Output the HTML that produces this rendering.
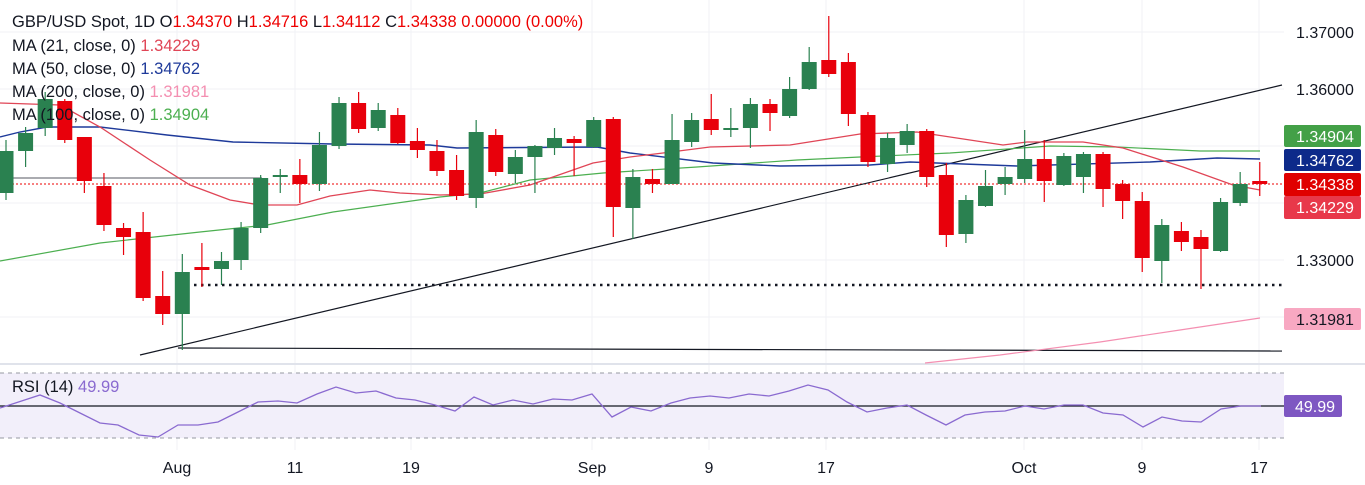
<!DOCTYPE html>
<html><head><meta charset="utf-8"><style>
html,body{margin:0;padding:0;background:#fff;width:1365px;height:485px;overflow:hidden}
svg{display:block;font-family:"Liberation Sans",sans-serif}
</style></head><body>
<svg id="s" width="1365" height="485" viewBox="0 0 1365 485" xmlns="http://www.w3.org/2000/svg">
<rect width="1365" height="485" fill="#fff"/>
<g stroke="#f0f2f5" stroke-width="1">
<line x1="0" y1="32" x2="1284" y2="32"/><line x1="0" y1="89" x2="1284" y2="89"/><line x1="0" y1="146" x2="1284" y2="146"/><line x1="0" y1="203" x2="1284" y2="203"/><line x1="0" y1="260" x2="1284" y2="260"/><line x1="0" y1="317" x2="1284" y2="317"/>
<line x1="177" y1="0" x2="177" y2="450"/><line x1="295" y1="0" x2="295" y2="450"/><line x1="411" y1="0" x2="411" y2="450"/><line x1="592" y1="0" x2="592" y2="450"/><line x1="709" y1="0" x2="709" y2="450"/><line x1="826" y1="0" x2="826" y2="450"/><line x1="1024" y1="0" x2="1024" y2="450"/><line x1="1142" y1="0" x2="1142" y2="450"/><line x1="1259" y1="0" x2="1259" y2="450"/>
</g>
<line x1="0" y1="364" x2="1365" y2="364" stroke="#e0e3eb" stroke-width="2"/>
<rect x="0" y="373" width="1284" height="65" fill="#f2effa"/>
<line x1="0" y1="373" x2="1284" y2="373" stroke="#9598a1" stroke-dasharray="4,4"/>
<line x1="0" y1="438" x2="1284" y2="438" stroke="#9598a1" stroke-dasharray="4,4"/>
<line x1="0" y1="406" x2="1284" y2="406" stroke="#131722" stroke-width="1.2"/>
<polyline fill="none" stroke="#8a6ad0" stroke-width="1.3" points="0,408 40,395 60,403 80,413 100,423 118,425 139,435 158,437 178,425 198,425 218,422 238,412 258,402 278,401 297,403 317,394 336,387 356,393 376,391 396,398 415,400 435,405 455,411 474,397 493,405 513,400 533,404 553,399 572,400 592,394 612,417 631,407 651,411 671,403 690,398 710,396 729,398 749,394 769,396 789,391 808,385 828,390 847,402 867,412 887,408 907,405 926,415 946,425 965,415 985,412 1005,411 1025,406 1044,409 1064,405 1083,405 1103,413 1123,415 1143,427 1162,417 1182,421 1201,422 1221,409 1241,406 1261,406"/>
<line x1="0" y1="178" x2="262" y2="178" stroke="#8d8f96" stroke-width="1.5"/>
<line x1="0" y1="184" x2="1284" y2="184" stroke="#e00" stroke-width="1" stroke-dasharray="2,2"/>
<line x1="187" y1="285" x2="1282" y2="285" stroke="#131722" stroke-width="2.5" stroke-dasharray="2.5,4.5"/>
<line x1="140" y1="355" x2="1282" y2="85" stroke="#131722" stroke-width="1.2"/>
<line x1="178" y1="348" x2="1282" y2="351" stroke="#131722" stroke-width="1.2"/>
<polyline fill="none" stroke="#f48fb1" stroke-width="1.2" points="925,363 1000,355 1100,342 1180,330 1260,318"/>
<polyline fill="none" stroke="#4caf50" stroke-width="1.2" points="0,261 100,243 200,232 267,225 333,212 440,197 480,193 530,180 603,173 697,167 797,160 860,157 950,153 1050,146 1117,147 1200,151 1260,151"/>
<polyline fill="none" stroke="#1e3a9a" stroke-width="1.4" points="0,137 20,132 47,127 100,127 167,135 233,142 333,144 430,145 457,148 597,147 630,153 713,163 780,166 870,165 910,162 1017,166 1150,162 1217,158 1260,159"/>
<polyline fill="none" stroke="#e04556" stroke-width="1.3" points="0,103 60,105 100,127 150,160 190,185 230,200 260,205 297,205 330,196 370,190 400,193 440,195 480,194 530,185 593,163 630,157 663,153 710,147 790,145 860,134 917,132 1003,145 1027,142 1083,142 1123,148 1183,167 1233,185 1260,190"/>
<g id="c"></g>
<g font-size="16.5" fill="#131722" xml:space="preserve">
<text x="12" y="27">GBP/USD Spot, 1D  O<tspan fill="#e00">1.34370</tspan>  H<tspan fill="#e00">1.34716</tspan>  L<tspan fill="#e00">1.34112</tspan>  C<tspan fill="#e00">1.34338</tspan>  <tspan fill="#e00">0.00000 (0.00%)</tspan></text>
<text x="12" y="51">MA (21, close, 0)  <tspan fill="#e04556">1.34229</tspan></text>
<text x="12" y="74">MA (50, close, 0)  <tspan fill="#1e3a9a">1.34762</tspan></text>
<text x="12" y="97">MA (200, close, 0)  <tspan fill="#f48fb1">1.31981</tspan></text>
<text x="12" y="120">MA (100, close, 0)  <tspan fill="#4caf50">1.34904</tspan></text>
<text x="12" y="392">RSI (14)  <tspan fill="#8a6ad0">49.99</tspan></text>
</g>
<g font-size="16" fill="#131722">
<text x="1296" y="38">1.37000</text>
<text x="1296" y="95">1.36000</text>
<text x="1296" y="266">1.33000</text>
</g>
<g font-size="16" fill="#fff">
<rect x="1284" y="125" width="77" height="22" rx="2" fill="#43a047"/><text x="1296" y="142">1.34904</text>
<rect x="1284" y="149" width="77" height="22" rx="2" fill="#0d2a8a"/><text x="1296" y="166">1.34762</text>
<rect x="1284" y="173" width="77" height="23" rx="2" fill="#e00000"/><text x="1296" y="190">1.34338</text>
<rect x="1284" y="196" width="77" height="23" rx="2" fill="#e8384a"/><text x="1296" y="213">1.34229</text>
<rect x="1284" y="308" width="77" height="22" rx="2" fill="#f8a8c2"/><text x="1296" y="325" fill="#131722">1.31981</text>
<rect x="1284" y="395" width="58" height="22" rx="2" fill="#7e57c2"/><text x="1295" y="412">49.99</text>
</g>
<g font-size="16" fill="#131722" text-anchor="middle">
<text x="177" y="473">Aug</text><text x="295" y="473">11</text><text x="411" y="473">19</text><text x="592" y="473">Sep</text><text x="709" y="473">9</text><text x="826" y="473">17</text><text x="1024" y="473">Oct</text><text x="1142" y="473">9</text><text x="1259" y="473">17</text>
</g>
</svg>
<script>
var d=[[151,193,140,200,'g'],[151,133,127,167,'g'],[128,99,92,136,'g'],[101,140,99,143,'r'],[137,181,137,193,'r'],[186,225,173,231,'r'],[228,237,223,255,'r'],[232,298,212,301,'r'],[296,314,271,325,'r'],[314,272,254,350,'g'],[268,269,243,287,'r'],[269,261,252,285,'g'],[260,228,222,270,'g'],[228,178,175,233,'g'],[177,175,169,193,'g'],[175,184,159,203,'r'],[184,145,132,191,'g'],[146,103,97,149,'g'],[103,129,92,133,'r'],[128,110,103,131,'g'],[115,143,108,144,'r'],[141,150,128,158,'r'],[151,171,140,176,'r'],[170,196,155,200,'r'],[198,132,120,208,'g'],[135,172,129,176,'r'],[174,157,150,183,'g'],[157,146,145,193,'g'],[148,138,128,155,'g'],[139,143,136,176,'r'],[147,120,117,148,'g'],[119,207,117,237,'r'],[208,177,169,239,'g'],[179,184,169,193,'r'],[184,140,114,184,'g'],[142,120,113,147,'g'],[119,130,94,135,'r'],[130,128,108,137,'g'],[128,104,98,148,'g'],[104,113,99,131,'r'],[116,89,77,118,'g'],[89,62,47,90,'g'],[60,74,16,77,'r'],[62,114,53,126,'r'],[115,162,112,167,'r'],[164,138,133,172,'g'],[145,131,124,153,'g'],[131,177,129,187,'r'],[175,235,163,247,'r'],[234,200,195,243,'g'],[206,186,170,207,'g'],[184,177,167,195,'g'],[179,159,130,183,'g'],[159,181,140,202,'r'],[185,156,153,186,'g'],[177,154,152,193,'g'],[154,189,152,207,'r'],[184,201,180,219,'r'],[201,258,192,272,'r'],[261,225,219,283,'g'],[231,242,222,251,'r'],[237,249,230,289,'r'],[251,202,198,252,'g'],[203,184,172,206,'g'],[181,184,162,196,'r']];
var g=document.getElementById('c'),h='';
for(var i=0;i<d.length;i++){var x=6+i*19.59,c=d[i],col=c[4]=='g'?'#2a8150':'#e8000b';var t=Math.min(c[0],c[1]),b=Math.max(c[0],c[1]);if(b-t<2){t-=1;b+=1;}
h+='<line x1="'+x+'" y1="'+c[2]+'" x2="'+x+'" y2="'+c[3]+'" stroke="'+col+'" stroke-width="1.2"/>';
h+='<rect x="'+(x-7.5)+'" y="'+t+'" width="15" height="'+(b-t)+'" fill="'+col+'"/>';}
g.innerHTML=h;
</script>
</body></html>
